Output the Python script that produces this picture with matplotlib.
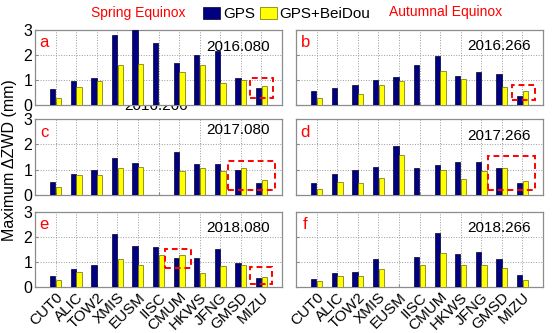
import numpy as np
import matplotlib
matplotlib.use("Agg")
import matplotlib.pyplot as plt
from matplotlib.patches import Patch, Rectangle

plt.rcParams['font.family'] = ['Liberation Sans', 'DejaVu Sans']

stations = ['CUT0', 'ALIC', 'TOW2', 'XMIS', 'EUSM', 'IISC',
            'CMUM', 'HKWS', 'JFNG', 'GMSD', 'MIZU']
nan = np.nan

# maximum dZWD (mm), GPS only / GPS+BeiDou
gps_2016_080 = [0.64, 0.96, 1.08, 2.77, 2.98, 2.46, 1.66, 1.97, 2.16, 1.08, 0.68]
gbd_2016_080 = [0.27, 0.73, 0.96, 1.57, 1.62, nan, 1.31, 1.58, 0.88, 1.01, 0.76]
gps_2016_266 = [0.55, 0.68, 0.80, 1.00, 1.12, 1.57, 1.93, 1.17, 1.33, 1.22, 0.34]
gbd_2016_266 = [0.29, nan, 0.42, 0.78, 0.97, nan, 1.37, 1.05, nan, 0.71, 0.54]
gps_2017_080 = [0.52, 0.82, 0.98, 1.47, 1.26, nan, 1.70, 1.23, 1.21, 1.00, 0.45]
gbd_2017_080 = [0.29, 0.78, 0.78, 1.05, 1.10, nan, 0.93, 1.05, 0.93, 1.05, 0.58]
gps_2017_266 = [0.46, 0.81, 0.97, 1.10, 1.92, 1.07, 1.18, 1.30, 1.28, 1.05, 0.46]
gbd_2017_266 = [0.23, 0.49, 0.46, 0.65, 1.56, nan, 1.00, 0.61, 0.95, 1.07, 0.53]
gps_2018_080 = [0.44, 0.72, 0.86, 2.12, 1.62, 1.60, 1.14, 1.15, 1.50, 0.95, 0.34]
gbd_2018_080 = [0.26, 0.60, nan, 1.10, 0.87, 1.27, 1.28, 0.56, 0.83, 0.87, 0.40]
gps_2018_266 = [0.32, 0.56, 0.58, 1.10, nan, 1.18, 2.16, 1.30, 1.38, 1.10, 0.46]
gbd_2018_266 = [0.23, 0.44, 0.44, 0.70, nan, 0.87, 1.34, 0.86, 0.86, 0.75, 0.28]

epochs = ['2016.080', '2016.266', '2017.080', '2017.266', '2018.080', '2018.266']
letters = ['a', 'b', 'c', 'd', 'e', 'f']
gps_all = [gps_2016_080, gps_2016_266, gps_2017_080, gps_2017_266, gps_2018_080, gps_2018_266]
gbd_all = [gbd_2016_080, gbd_2016_266, gbd_2017_080, gbd_2017_266, gbd_2018_080, gbd_2018_266]

# highlighted regions (x0, x1, y0, y1) per panel
boxes = [
    [(10.44, 11.55, 0.28, 1.09)],
    [(10.47, 11.60, 0.20, 0.79)],
    [(9.38, 11.68, 0.17, 1.33)],
    [(9.33, 11.63, 0.17, 1.54)],
    [(6.31, 7.56, 0.74, 1.50), (10.44, 11.49, 0.13, 0.81)],
    [],
]
year_y = [2.32, 2.33, 2.58, 2.35, 2.34, 2.34]

W, H = 554, 333
fig = plt.figure(figsize=(W / 100, H / 100), dpi=100)

lefts = [35, 296]
tops = [29.5, 119.2, 211.5]
ax_w, ax_h = 247, 75.5
x = np.arange(1, 12)
blue = '#000080'
yellow = '#ffff00'

for i in range(6):
    r, c = divmod(i, 2)
    ax = fig.add_axes([lefts[c] / W, 1 - (tops[r] + ax_h) / H, ax_w / W, ax_h / H])
    ax.bar(x - 0.14, gps_all[i], width=0.26, color=blue, edgecolor='#000030', linewidth=0.5, zorder=3)
    ax.bar(x + 0.14, gbd_all[i], width=0.26, color=yellow, edgecolor='#6b6b00', linewidth=0.5, zorder=3)
    ax.set_xlim(0, 12)
    ax.set_ylim(0, 3)
    ax.set_xticks(x)
    ax.set_yticks([0, 1, 2, 3])
    ax.grid(True, color='#9a9a9a', linestyle=':', linewidth=0.7, zorder=0)
    for s in ax.spines.values():
        s.set_color('#8c8c8c')
        s.set_linewidth(0.9)
    ax.tick_params(direction='in', length=2, color='#8c8c8c', labelsize=11.5, pad=2)
    if c == 1:
        ax.set_yticklabels([])
    if r < 2:
        ax.set_xticklabels([])
    else:
        ax.set_xticklabels(stations, rotation=45, ha='right', rotation_mode='anchor', fontsize=11)
    ax.text(0.45, 2.48, letters[i], color='red', fontsize=12, ha='center', va='center')
    ax.text(11.42, year_y[i], epochs[i], fontsize=11, ha='right', va='center')
    for (x0, x1, y0, y1) in boxes[i]:
        ax.add_patch(Rectangle((x0, y0), x1 - x0, y1 - y0, fill=False, edgecolor='red',
                               linestyle=(0, (3, 2)), linewidth=1.4, zorder=5, clip_on=False))

# leftover label hidden behind panel a
fig.text(156 / W, 1 - 110 / H, '2016.266', fontsize=11, ha='center', va='baseline', zorder=-1)

fig.text(10 / W, 1 - 160 / H, 'Maximum ΔZWD (mm)', rotation=90, fontsize=11.5, ha='center', va='center')
fig.text(138 / W, 1 - 13 / H, 'Spring Equinox', color='red', fontsize=10, ha='center', va='center')
fig.text(446 / W, 1 - 12 / H, 'Autumnal Equinox', color='red', fontsize=10, ha='center', va='center')

handles = [Patch(facecolor=blue, edgecolor='#000030', linewidth=0.5),
           Patch(facecolor=yellow, edgecolor='#6b6b00', linewidth=0.5)]
fig.legend(handles, ['GPS', 'GPS+BeiDou'], ncol=2, frameon=False, fontsize=11,
           loc='center', bbox_to_anchor=(287 / W, 1 - 14 / H),
           handlelength=1.1, handleheight=0.8, handletextpad=0.2, columnspacing=0.3,
           borderpad=0, borderaxespad=0)

fig.savefig('out.png', dpi=100)
